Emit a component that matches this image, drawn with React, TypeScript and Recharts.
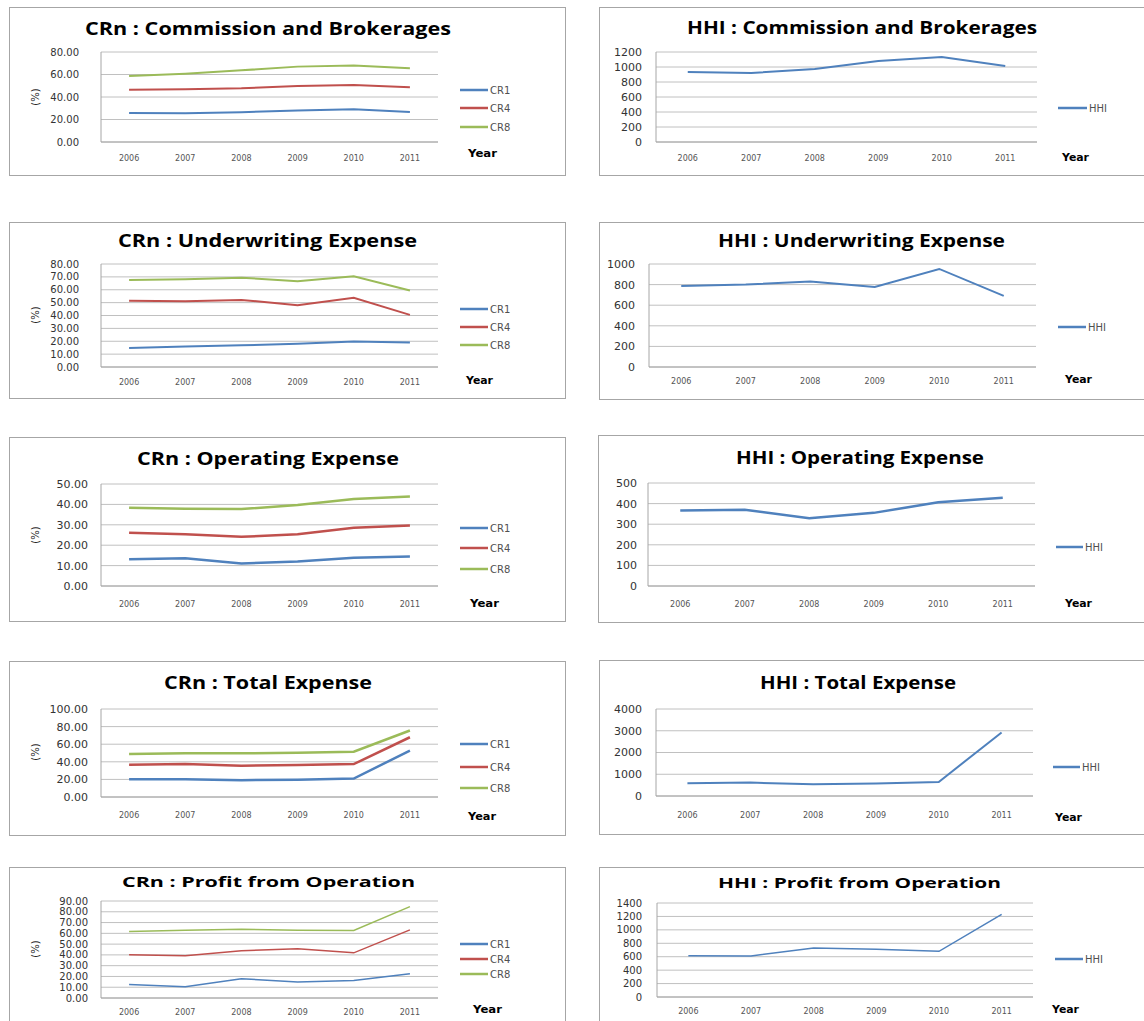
import React from "react";
import { LineChart, Line, XAxis, YAxis, CartesianGrid, Legend } from "recharts";

const YEARS = ["2006", "2007", "2008", "2009", "2010", "2011"];

const COMM_CR1 = [25.8, 25.5, 26.4, 28.1, 29.0, 26.7];
const COMM_CR4 = [46.5, 46.8, 47.7, 49.8, 50.7, 48.6];
const COMM_CR8 = [58.7, 60.7, 63.7, 67.0, 67.9, 65.5];
const COMM_HHI = [933, 920, 973, 1080, 1133, 1013];

const UW_CR1 = [14.7, 16.0, 16.8, 18.1, 19.9, 19.1];
const UW_CR4 = [51.4, 51.1, 52.1, 48.0, 53.7, 40.5];
const UW_CR8 = [67.6, 68.1, 69.4, 66.6, 70.5, 59.4];
const UW_HHI = [787, 800, 829, 777, 952, 690];

const OP_CR1 = [13.1, 13.6, 11.0, 12.0, 13.8, 14.4];
const OP_CR4 = [26.1, 25.4, 24.1, 25.4, 28.5, 29.7];
const OP_CR8 = [38.4, 37.9, 37.7, 39.7, 42.6, 43.9];
const OP_HHI = [366, 370, 329, 355, 406, 428];

const TOT_CR1 = [20.2, 20.2, 19.1, 19.5, 21.0, 52.7];
const TOT_CR4 = [36.6, 37.4, 35.5, 36.3, 37.4, 67.9];
const TOT_CR8 = [48.9, 49.6, 49.6, 50.4, 51.5, 75.6];
const TOT_HHI = [585, 615, 538, 569, 646, 2923];

const PROF_CR1 = [12.6, 10.5, 17.9, 14.8, 16.3, 22.5];
const PROF_CR4 = [40.1, 39.1, 43.8, 45.6, 41.9, 63.2];
const PROF_CR8 = [61.6, 62.9, 63.8, 62.9, 62.6, 84.8];
const PROF_HHI = [616, 611, 730, 710, 680, 1231];

const TICKS_CR80_20 = [0, 20, 40, 60, 80];
const TICKS_CR80_10 = [0, 10, 20, 30, 40, 50, 60, 70, 80];
const TICKS_CR50 = [0, 10, 20, 30, 40, 50];
const TICKS_CR100 = [0, 20, 40, 60, 80, 100];
const TICKS_CR90 = [0, 10, 20, 30, 40, 50, 60, 70, 80, 90];
const TICKS_HHI1200 = [0, 200, 400, 600, 800, 1000, 1200];
const TICKS_HHI1000 = [0, 200, 400, 600, 800, 1000];
const TICKS_HHI500 = [0, 100, 200, 300, 400, 500];
const TICKS_HHI4000 = [0, 1000, 2000, 3000, 4000];
const TICKS_HHI1400 = [0, 200, 400, 600, 800, 1000, 1200, 1400];

const COLORS: Record<string, string> = {
  CR1: "#4F81BD",
  CR4: "#C0504D",
  CR8: "#9BBB59",
  HHI: "#4F81BD",
};

function crRows(a: number[], b: number[], c: number[]) {
  return YEARS.map((year, i) => ({ year, CR1: a[i], CR4: b[i], CR8: c[i] }));
}
function hhiRows(a: number[]) {
  return YEARS.map((year, i) => ({ year, HHI: a[i] }));
}

type Panel = {
  title: string;
  box: number[]; // l t r b
  plot: number[]; // l t r b
  rows: any[];
  keys: string[];
  ticks: number[];
  dec: number;
  yEnd: number;
  yFont: number;
  xTickY: number;
  titleBase: number;
  titleX: number[];
  titleSize: number;
  legX: number;
  legLen: number;
  legYs: number[];
  year: number[]; // x1 x2 baseline
  pctY?: number;
  sw: number;
};

const PANELS: Panel[] = [
  {
    title: "CRn : Commission and Brokerages",
    box: [9, 7, 566, 176], plot: [101, 52, 438, 142],
    rows: crRows(COMM_CR1, COMM_CR4, COMM_CR8), keys: ["CR1", "CR4", "CR8"],
    ticks: TICKS_CR80_20, dec: 2, yEnd: 79, yFont: 10, xTickY: 158,
    titleBase: 35, titleX: [85, 451], titleSize: 17,
    legX: 460, legLen: 28, legYs: [90, 108, 127], year: [468, 497, 157], pctY: 97, sw: 2,
  },
  {
    title: "HHI : Commission and Brokerages",
    box: [599, 7, 1146, 176], plot: [656, 52, 1037, 142],
    rows: hhiRows(COMM_HHI), keys: ["HHI"],
    ticks: TICKS_HHI1200, dec: 0, yEnd: 642, yFont: 11, xTickY: 158,
    titleBase: 34, titleX: [687, 1037], titleSize: 17,
    legX: 1058, legLen: 29, legYs: [108], year: [1062, 1089, 161], sw: 2,
  },
  {
    title: "CRn : Underwriting Expense",
    box: [9, 222, 566, 399], plot: [101, 264, 438, 367],
    rows: crRows(UW_CR1, UW_CR4, UW_CR8), keys: ["CR1", "CR4", "CR8"],
    ticks: TICKS_CR80_10, dec: 2, yEnd: 79, yFont: 10, xTickY: 382,
    titleBase: 247, titleX: [118, 417], titleSize: 17,
    legX: 460, legLen: 28, legYs: [309, 327, 345], year: [466, 493, 384], pctY: 315, sw: 2,
  },
  {
    title: "HHI : Underwriting Expense",
    box: [599, 222, 1146, 400], plot: [649, 264, 1036, 367],
    rows: hhiRows(UW_HHI), keys: ["HHI"],
    ticks: TICKS_HHI1000, dec: 0, yEnd: 635, yFont: 11, xTickY: 381,
    titleBase: 247, titleX: [718, 1005], titleSize: 17,
    legX: 1058, legLen: 28, legYs: [327], year: [1065, 1092, 383], sw: 2,
  },
  {
    title: "CRn : Operating Expense",
    box: [9, 437, 566, 622], plot: [101, 484, 438, 586],
    rows: crRows(OP_CR1, OP_CR4, OP_CR8), keys: ["CR1", "CR4", "CR8"],
    ticks: TICKS_CR50, dec: 2, yEnd: 88, yFont: 11, xTickY: 604,
    titleBase: 465, titleX: [137, 399], titleSize: 17,
    legX: 460, legLen: 28, legYs: [528, 548, 569], year: [470, 499, 607], pctY: 535, sw: 2.5,
  },
  {
    title: "HHI : Operating Expense",
    box: [598, 435, 1146, 623], plot: [648, 483, 1035, 586],
    rows: hhiRows(OP_HHI), keys: ["HHI"],
    ticks: TICKS_HHI500, dec: 0, yEnd: 637, yFont: 11, xTickY: 604,
    titleBase: 464, titleX: [736, 984], titleSize: 17,
    legX: 1056, legLen: 27, legYs: [547], year: [1065, 1092, 607], sw: 2.5,
  },
  {
    title: "CRn : Total Expense",
    box: [9, 661, 566, 836], plot: [101, 709, 438, 797],
    rows: crRows(TOT_CR1, TOT_CR4, TOT_CR8), keys: ["CR1", "CR4", "CR8"],
    ticks: TICKS_CR100, dec: 2, yEnd: 88, yFont: 11, xTickY: 815,
    titleBase: 689, titleX: [164, 372], titleSize: 17,
    legX: 460, legLen: 28, legYs: [744, 767, 788], year: [468, 496, 820], pctY: 752, sw: 2.5,
  },
  {
    title: "HHI : Total Expense",
    box: [599, 660, 1146, 835], plot: [656, 709, 1033, 796],
    rows: hhiRows(TOT_HHI), keys: ["HHI"],
    ticks: TICKS_HHI4000, dec: 0, yEnd: 642, yFont: 11, xTickY: 815,
    titleBase: 689, titleX: [760, 956], titleSize: 17,
    legX: 1053, legLen: 27, legYs: [767], year: [1055, 1082, 821], sw: 2,
  },
  {
    title: "CRn : Profit from Operation",
    box: [9, 867, 566, 1030], plot: [101, 901, 438, 998],
    rows: crRows(PROF_CR1, PROF_CR4, PROF_CR8), keys: ["CR1", "CR4", "CR8"],
    ticks: TICKS_CR90, dec: 2, yEnd: 88, yFont: 10, xTickY: 1012,
    titleBase: 887, titleX: [122, 415], titleSize: 15,
    legX: 460, legLen: 28, legYs: [944, 959, 974], year: [473, 502, 1013], pctY: 949, sw: 1.5,
  },
  {
    title: "HHI : Profit from Operation",
    box: [599, 867, 1146, 1030], plot: [657, 903, 1033, 997],
    rows: hhiRows(PROF_HHI), keys: ["HHI"],
    ticks: TICKS_HHI1400, dec: 0, yEnd: 642, yFont: 10, xTickY: 1011,
    titleBase: 888, titleX: [718, 1001], titleSize: 15,
    legX: 1055, legLen: 28, legYs: [959], year: [1052, 1079, 1013], sw: 1.5,
  },
];

const GRID = "#c0c0c0";
const AXIS_W = 40;
const XAXIS_H = 24;
const X_FONT = 8;

function ChartPanel({ p }: { p: Panel }) {
  const [bl, bt, br, bb] = p.box;
  const [pl, pt, pr, pb] = p.plot;
  const w = br - bl;
  const h = bb - bt;
  const half = (pr - pl) / YEARS.length / 2;

  const legend = (props: any) => (
    <svg width={120} height={h} style={{ display: "block", overflow: "visible" }}>
      {(props.payload || []).map((item: any, i: number) => {
        const y = p.legYs[i] - bt;
        return (
          <g key={item.value}>
            <line x1={0} x2={p.legLen} y1={y} y2={y} stroke={item.color} strokeWidth={2.5} />
            <text
              x={p.legLen + 2}
              y={y + 3.5}
              fontSize={10}
              fontFamily="DejaVu Sans"
              fill="#505050"
            >
              {item.value}
            </text>
          </g>
        );
      })}
    </svg>
  );

  return (
    <div
      style={{
        position: "absolute",
        left: bl,
        top: bt,
        width: w,
        height: h,
        boxSizing: "border-box",
        border: "1px solid #a6a6a6",
        background: "#fff",
      }}
    >
      <div style={{ position: "absolute", left: -1, top: -1 }}>
        <LineChart
          width={w}
          height={h}
          data={p.rows}
          margin={{
            top: pt - bt,
            right: br - pr,
            bottom: bb - pb - XAXIS_H,
            left: pl - bl - AXIS_W,
          }}
        >
          <CartesianGrid vertical={false} stroke={GRID} strokeWidth={1} />
          <XAxis
            dataKey="year"
            height={XAXIS_H}
            padding={{ left: half, right: half }}
            tickLine={false}
            tickSize={0}
            tickMargin={p.xTickY - pb - X_FONT * 0.36}
            axisLine={{ stroke: "#a6a6a6" }}
            interval={0}
            tick={{ fontSize: X_FONT, fill: "#555", fontFamily: "DejaVu Sans" }}
          />
          <YAxis
            width={AXIS_W}
            domain={[p.ticks[0], p.ticks[p.ticks.length - 1]]}
            ticks={p.ticks}
            interval={0}
            tickLine={false}
            tickSize={0}
            tickMargin={pl - p.yEnd}
            axisLine={{ stroke: "#a6a6a6" }}
            tickFormatter={(v: number) => v.toFixed(p.dec)}
            tick={{ fontSize: p.yFont, fill: "#333", fontFamily: "DejaVu Sans" }}
          />
          <Legend
            layout="vertical"
            align="center"
            verticalAlign="middle"
            wrapperStyle={{ left: p.legX - bl, top: 0, width: 120, height: h }}
            content={legend}
          />
          {p.keys.map((k) => (
            <Line
              key={k}
              dataKey={k}
              name={k}
              type="linear"
              stroke={COLORS[k]}
              strokeWidth={p.sw}
              dot={false}
              activeDot={false}
              isAnimationActive={false}
            />
          ))}
        </LineChart>
      </div>
      <svg
        width={w}
        height={h}
        style={{ position: "absolute", left: -1, top: -1, pointerEvents: "none", overflow: "visible" }}
      >
        <text
          x={p.titleX[0] - bl}
          y={p.titleBase - bt}
          fontSize={p.titleSize}
          fontWeight="bold"
          fontFamily="Open Sans"
          fill="#000"
          textLength={p.titleX[1] - p.titleX[0]}
          lengthAdjust="spacingAndGlyphs"
        >
          {p.title}
        </text>
        <text
          x={p.year[0] - bl}
          y={p.year[2] - bt}
          fontSize={10}
          fontWeight="bold"
          fontFamily="DejaVu Sans"
          fill="#000"
          textLength={p.year[1] - p.year[0]}
          lengthAdjust="spacingAndGlyphs"
        >
          Year
        </text>
        {p.pctY !== undefined && (
          <text
            transform={`translate(${35 + 3.5 - bl}, ${p.pctY - bt}) rotate(-90)`}
            textAnchor="middle"
            fontSize={10}
            fontFamily="DejaVu Sans"
            fill="#222"
          >
            (%)
          </text>
        )}
      </svg>
    </div>
  );
}

export default function App() {
  return (
    <div
      style={{
        position: "absolute",
        left: 0,
        top: 0,
        width: 1144,
        height: 1021,
        overflow: "hidden",
        background: "#fff",
      }}
    >
      {PANELS.map((p) => (
        <ChartPanel key={p.title} p={p} />
      ))}
    </div>
  );
}
